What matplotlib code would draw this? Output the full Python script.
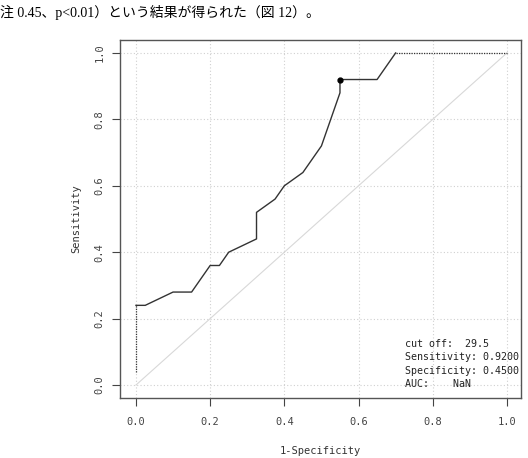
import numpy as np
import matplotlib
matplotlib.use("Agg")
import matplotlib.pyplot as plt

# ROC curve (x = 1 - specificity, y = sensitivity)
roc_fpr = [0, 0, 0.025, 0.1, 0.15, 0.2, 0.225, 0.25, 0.325, 0.325, 0.375,
           0.4, 0.45, 0.5, 0.55, 0.55, 0.65, 0.70, 1.0]
roc_tpr = [0.04, 0.24, 0.24, 0.28, 0.28, 0.36, 0.36, 0.40, 0.44, 0.52, 0.56,
           0.60, 0.64, 0.72, 0.88, 0.92, 0.92, 1.0, 1.0]
cut_fpr = 0.55
cut_tpr = 0.92
ticks = [0.0, 0.2, 0.4, 0.6, 0.8, 1.0]
tick_labels = ["0.0", "0.2", "0.4", "0.6", "0.8", "1.0"]
info_lines = ["cut off:  29.5", "Sensitivity: 0.9200",
              "Specificity: 0.4500", "AUC:    NaN"]
caption = "注 0.45、p<0.01）という結果が得られた（図 12）。"

mono = "DejaVu Sans Mono"

fig = plt.figure(figsize=(5.28, 4.58), dpi=100)
ax = fig.add_axes([120/528, 60/458, 401/528, 358/458])

# grid
for t in ticks:
    ax.axvline(t, color="#d0d0d0", lw=0.8, ls=(0, (1, 2)), zorder=0)
    ax.axhline(t, color="#d0d0d0", lw=0.8, ls=(0, (1, 2)), zorder=0)

# chance diagonal
ax.plot([0, 1], [0, 1], color="#d8d8d8", lw=0.8, zorder=1)

# curve: dotted ends, solid middle
ax.plot(roc_fpr[:2], roc_tpr[:2], color="#333333", lw=0.9, ls=(0, (1, 1)))
ax.plot(roc_fpr[1:-1], roc_tpr[1:-1], color="#333333", lw=1.0)
ax.plot(roc_fpr[-2:], roc_tpr[-2:], color="#333333", lw=0.9, ls=(0, (1, 1)))
ax.plot([cut_fpr], [cut_tpr], "o", color="black", ms=3.5)

ax.set_xlim(-0.043, 1.038)
ax.set_ylim(-0.039, 1.039)
ax.set_xticks(ticks)
ax.set_yticks(ticks)
ax.set_xticklabels(tick_labels, fontfamily=mono, fontsize=7.5, color="#444444")
ax.set_yticklabels(tick_labels, fontfamily=mono, fontsize=7.5, color="#444444",
                   rotation=90, va="center")
ax.tick_params(axis="x", length=6, width=0.8, color="#444444", pad=8)
ax.tick_params(axis="y", length=6, width=0.8, color="#444444", pad=5)
for s in ax.spines.values():
    s.set_color("#555555")
    s.set_linewidth(1.0)

ax.set_xlabel("1-Specificity", fontfamily=mono, fontsize=7.5, color="#333333",
              labelpad=13)
ax.set_ylabel("Sensitivity", fontfamily=mono, fontsize=7.5, color="#333333",
              labelpad=10)

ax.text(0.725, 0.14, "\n".join(info_lines), transform=ax.transData,
        fontfamily=mono, fontsize=7.2, color="#222222", va="top", ha="left",
        linespacing=1.45)

fig.text(0, 1 - 12/458, caption, fontsize=10, va="center", ha="left",
         family=["Liberation Serif", "Noto Sans CJK JP"])

fig.savefig("out.png", dpi=100)
